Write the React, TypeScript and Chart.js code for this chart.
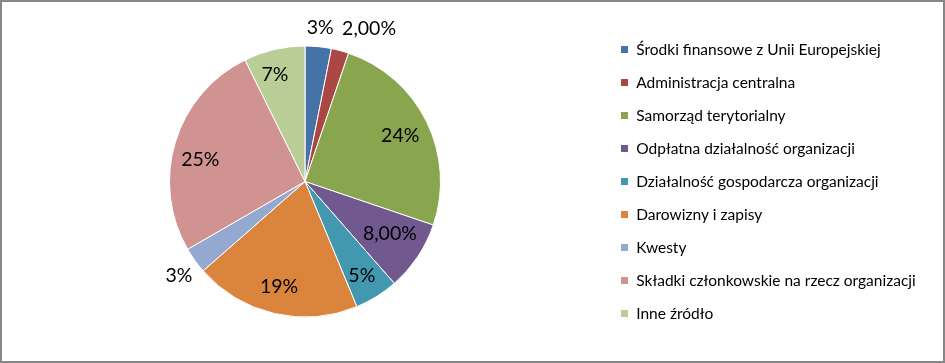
import React, { useEffect, useRef } from "react";
import { Chart, registerables } from "chart.js";

Chart.register(...registerables);

const categories = [
  "Środki finansowe z Unii Europejskiej",
  "Administracja centralna",
  "Samorząd terytorialny",
  "Odpłatna działalność organizacji",
  "Działalność gospodarcza organizacji",
  "Darowizny i zapisy",
  "Kwesty",
  "Składki członkowskie na rzecz organizacji",
  "Inne źródło",
];
const shares = [3, 2, 24, 8, 5, 19, 3, 25, 7];
const valueLabels = ["3%", "2,00%", "24%", "8,00%", "5%", "19%", "3%", "25%", "7%"];

const sliceColors = [
  "#4572A7",
  "#AA4643",
  "#89A54E",
  "#71588F",
  "#4198AF",
  "#DB843D",
  "#93A9CF",
  "#D19392",
  "#B9CD96",
];

// label placement (style): radius factor and angular nudge in degrees
const labelRadii = [1.137, 1.22, 0.78, 0.735, 0.81, 0.8, 1.16, 0.79, 0.82];
const labelNudges = [0, 7.8, 0.5, -2.2, 0.7, 0.7, -1.1, -4.9, -2.6];

const FONT = "Lato, 'Open Sans', sans-serif";

const sliceLabelPlugin = {
  id: "sliceLabels",
  afterDatasetsDraw(chart: any) {
    const ctx = chart.ctx;
    const meta = chart.getDatasetMeta(0);
    ctx.save();
    ctx.font = `19.5px ${FONT}`;
    ctx.fillStyle = "#000";
    ctx.textAlign = "center";
    ctx.textBaseline = "middle";
    meta.data.forEach((arc: any, i: number) => {
      const p = arc.getProps(["x", "y", "startAngle", "endAngle", "outerRadius"], true);
      const mid = (p.startAngle + p.endAngle) / 2 + (labelNudges[i] * Math.PI) / 180;
      const r = p.outerRadius * labelRadii[i];
      ctx.fillText(valueLabels[i], p.x + Math.cos(mid) * r, p.y + Math.sin(mid) * r);
    });
    ctx.restore();
  },
};

const legendWidthPlugin = {
  id: "legendWidth",
  beforeInit(chart: any) {
    const legend = chart.legend;
    if (legend && !legend.__patched) {
      const orig = legend.fit;
      legend.fit = function () {
        orig.call(this);
        this.width = 340;
      };
      legend.__patched = true;
    }
  },
};

export default function App() {
  const ref = useRef<HTMLCanvasElement | null>(null);
  useEffect(() => {
    if (!ref.current) return;
    const chart = new Chart(ref.current, {
      type: "pie",
      data: {
        labels: categories,
        datasets: [
          {
            data: shares,
            backgroundColor: sliceColors,
            borderColor: "#ffffff",
            borderWidth: 1,
            radius: 135.5,
          },
        ],
      },
      options: {
        responsive: false,
        animation: false,
        layout: { padding: { left: 5, right: 0, top: 0, bottom: 0 } },
        plugins: {
          legend: {
            position: "right",
            align: "center",
            labels: {
              boxWidth: 8,
              boxHeight: 8,
              padding: 17.5,
              color: "#000",
              font: { family: FONT, size: 15.5 },
            },
          },
          tooltip: { enabled: false },
        },
      },
      plugins: [sliceLabelPlugin, legendWidthPlugin],
    });
    return () => chart.destroy();
  }, []);
  return (
    <div
      style={{
        position: "absolute",
        left: 0,
        top: 0,
        width: 945,
        height: 363,
        border: "2px solid #868686",
        boxSizing: "border-box",
        background: "#fff",
      }}
    >
      <canvas ref={ref} width={941} height={359} style={{ display: "block" }} />
    </div>
  );
}
